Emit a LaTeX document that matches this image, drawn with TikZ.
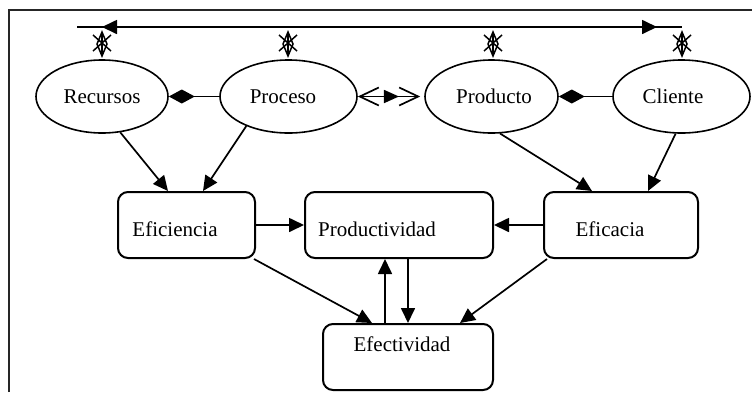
\documentclass[tikz,border=0pt]{standalone}
\usepackage{fontspec}
\setmainfont{Liberation Serif}
\usetikzlibrary{arrows.meta,shapes.geometric,decorations.markings}
\begin{document}
\begin{tikzpicture}[x=1pt,y=-1pt,
  oval/.style={draw,ellipse,line width=1.6pt,inner sep=0pt,minimum height=73pt},
  box/.style={draw,rectangle,rounded corners=10pt,line width=2pt,inner sep=0pt,minimum height=66pt},
  lbl/.style={anchor=base,inner sep=0pt,font=\fontsize{21}{25}\selectfont},
  conn/.style={line width=1.7pt},
  arr/.style={conn,-{Triangle[length=15pt,width=14pt]}},
  agg/.style={conn,-{Diamond[length=26pt,width=14pt]}},
  barb/.tip={Straight Barb[length=19pt,width=18pt,line width=1.7pt]},
  card/.pic={
    \draw[line width=1.5pt] (0,-11) -- (0,11);
    \draw[line width=1.5pt] (0,-12) -- (5,0) -- (0,12) -- (-5,0) -- cycle;
    \draw[line width=1.5pt] (-9,-9) -- (9,7) (9,-9) -- (-9,7);
  }]
\useasboundingbox (0,0) rectangle (752,392);

% outer frame
\draw[line width=2pt,black!85] (9,392) -- (9,10) -- (752,10);

% ellipses
\node[oval,minimum width=132pt] (rec) at (102,96.5) {};
\node[oval,minimum width=137pt] (pcs) at (288.5,96.5) {};
\node[oval,minimum width=133pt] (pdt) at (491.5,96.5) {};
\node[oval,minimum width=137pt] (cli) at (681.5,96.5) {};
\node[lbl] (trec) at (102,103) {Recursos};
\node[lbl] (tpcs) at (283,103) {Proceso};
\node[lbl] (tpdt) at (494,103) {Producto};
\node[lbl] (tcli) at (673,103) {Cliente};

% boxes
\node[box,minimum width=137pt] (efi) at (186.5,225) {};
\node[box,minimum width=188pt] (pro) at (399,225) {};
\node[box,minimum width=154pt] (efa) at (621,225) {};
\node[box,minimum width=170pt] (efe) at (408,357) {};
\node[lbl] (tefi) at (175,236) {Eficiencia};
\node[lbl] (tpro) at (377,236) {Productividad};
\node[lbl] (tefa) at (610,236) {Eficacia};
\node[lbl] (tefe) at (402,351) {Efectividad};

% top double arrow
\coordinate (tl) at (77,27);
\coordinate (tr) at (682,27);
\coordinate (al) at (102,27);
\coordinate (ar) at (657,27);
\draw[conn] (tl) -- (tr);
\draw[conn,{Triangle[length=15pt,width=14pt]}-{Triangle[length=15pt,width=14pt]}] (al) -- (ar);

% markers above the ellipses
\pic at (102,44) {card};
\pic at (288,44) {card};
\pic at (493,44) {card};
\pic at (682,44) {card};

% links between ellipses
\draw[agg] (pcs) -- (rec);
\draw[agg] (cli) -- (pdt);
\draw[conn,{barb}-{barb},shorten >=4pt,
  postaction={decorate},
  decoration={markings,mark=at position 0.62 with {\arrow{Triangle[length=15pt,width=13pt]}}}]
  (pcs) -- (pdt);

% ellipses to boxes
\draw[arr] (rec.-63) -- ([xshift=-18.5pt]efi.north);
\draw[arr] (pcs.-145) -- ([xshift=16.5pt]efi.north);
\draw[arr] (pdt.-77) -- ([xshift=-29pt]efa.north);
\draw[arr] (cli.-99) -- ([xshift=27pt]efa.north);

% boxes to boxes
\draw[arr] (efi) -- (pro);
\draw[arr] (efa) -- (pro);
\draw[arr] ([xshift=-2pt]efi.south east) -- ([xshift=-36pt]efe.north);
\draw[arr] ([xshift=4pt]efa.south west) -- ([xshift=52pt]efe.north);
\draw[arr] ([xshift=-23pt]efe.north) -- ([xshift=-14pt]pro.south);
\draw[arr] ([xshift=9pt]pro.south) -- ([xshift=0pt]efe.north);
\end{tikzpicture}
\end{document}
